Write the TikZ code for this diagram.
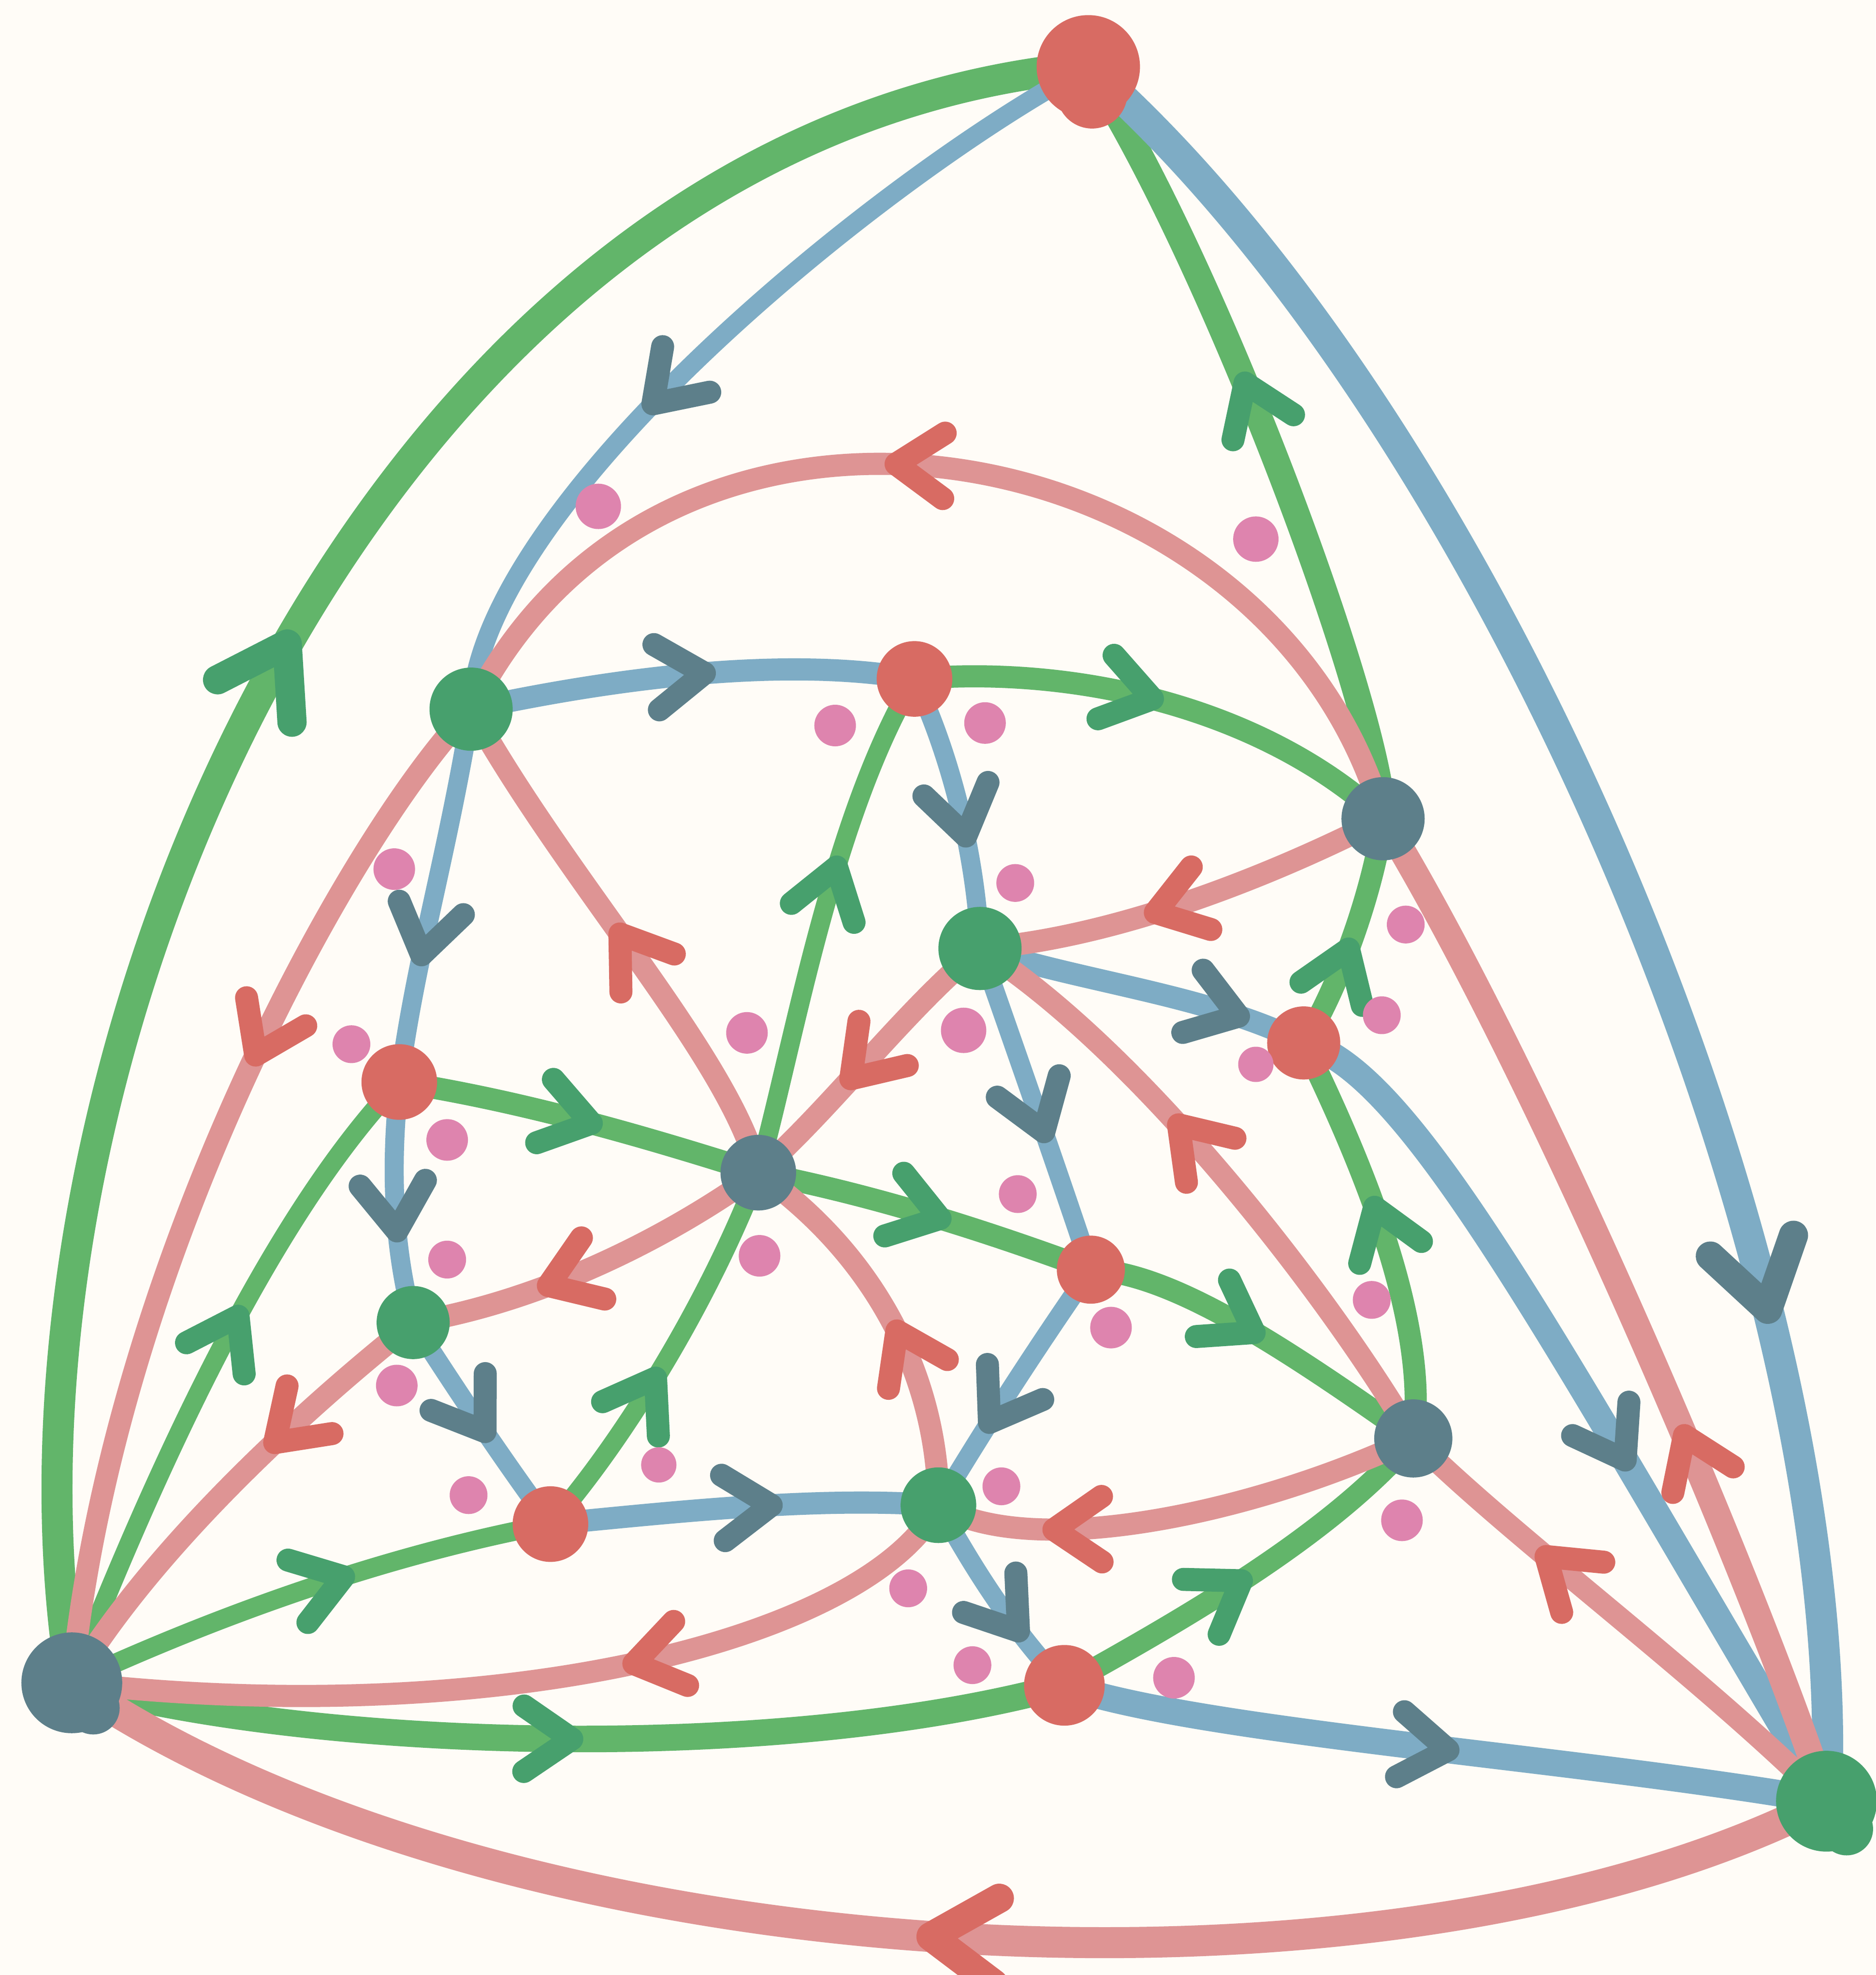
\documentclass[tikz,border=0pt]{standalone}
\usetikzlibrary{decorations.markings}
\definecolor{bgc}{HTML}{FFFCF7}
\definecolor{egreen}{HTML}{62B56A}
\definecolor{eblue}{HTML}{7EACC5}
\definecolor{epink}{HTML}{DE9494}
\definecolor{nred}{HTML}{D86B63}
\definecolor{ngreen}{HTML}{47A06D}
\definecolor{nslate}{HTML}{5D7F8A}
\definecolor{dotc}{HTML}{DE84AE}
\pgfdeclarelayer{bglayer}
\pgfdeclarelayer{edgelayer}
\pgfsetlayers{bglayer,edgelayer,main}
\tikzset{
  vert/.style={circle, inner sep=0pt, fill=#1},
  rv/.style={vert=nred}, gv/.style={vert=ngreen}, bv/.style={vert=nslate},
  dotn/.style={circle, inner sep=0pt, fill=dotc, minimum size=0.33cm},
  ge/.style={draw=egreen, line width=5pt},
  be/.style={draw=eblue, line width=5pt},
  pe/.style={draw=epink, line width=5pt},
  thin/.style={line width=4.3pt},
  thick/.style={line width=6pt},
  outer/.style={line width=7pt},
  chev/.style 2 args={postaction={decorate, decoration={markings, mark=at position #1 with {\draw[draw=#2, line width=5.2pt, line cap=round, line join=round] (-35,26) -- (3,0) -- (-35,-26);}}}},
  bchev/.style 2 args={postaction={decorate, decoration={markings, mark=at position #1 with {\draw[draw=#2, line width=6.6pt, line cap=round, line join=round] (-48,34) -- (4,0) -- (-48,-34);}}}},
}
\begin{document}
\begin{tikzpicture}[x=0.01cm, y=-0.01cm]
\useasboundingbox (0,0) rectangle (1489,1568);
\begin{pgfonlayer}{bglayer}
\fill[bgc] (0,0) rectangle (1489,1568);
\end{pgfonlayer}

% vertices
\node[rv, minimum size=0.82cm] (R1) at (864,53) {};
\fill[nred] (867,74) circle (0.28cm);
\node[rv, minimum size=0.60cm] (R2) at (726,539) {};
\node[rv, minimum size=0.60cm] (R3) at (317,859) {};
\node[rv, minimum size=0.58cm] (R4) at (1035,828) {};
\node[rv, minimum size=0.54cm] (R5) at (866,1008) {};
\node[rv, minimum size=0.60cm] (R6) at (437,1210) {};
\node[rv, minimum size=0.64cm] (R7) at (845,1338) {};
\node[gv, minimum size=0.66cm] (G1) at (374,563) {};
\node[gv, minimum size=0.66cm] (G2) at (778,753) {};
\node[gv, minimum size=0.58cm] (G3) at (328,1050) {};
\node[gv, minimum size=0.60cm] (G4) at (745,1195) {};
\node[gv, minimum size=0.80cm] (G5) at (1450,1430) {};
\fill[ngreen] (1466,1452) circle (0.21cm);
\node[bv, minimum size=0.66cm] (B1) at (1098,650) {};
\node[bv, minimum size=0.60cm] (B2) at (602,931) {};
\node[bv, minimum size=0.62cm] (B3) at (1122,1142) {};
\node[bv, minimum size=0.80cm] (B4) at (57,1336) {};
\fill[nslate] (74,1356) circle (0.21cm);

% face dots
\node[dotn, minimum size=0.36cm] (d1) at (475,402) {};
\node[dotn, minimum size=0.36cm] (d2) at (997,428) {};
\node[dotn] (d3) at (663,576) {};
\node[dotn] (d4) at (782,574) {};
\node[dotn] (d5) at (313,690) {};
\node[dotn, minimum size=0.30cm] (d6) at (806,701) {};
\node[dotn, minimum size=0.30cm] (d7) at (1116,734) {};
\node[dotn, minimum size=0.30cm] (d8) at (279,829) {};
\node[dotn] (d9) at (593,820) {};
\node[dotn, minimum size=0.36cm] (d10) at (765,818) {};
\node[dotn, minimum size=0.30cm] (d11) at (1097,806) {};
\node[dotn, minimum size=0.28cm] (d12) at (997,845) {};
\node[dotn] (d13) at (355,905) {};
\node[dotn, minimum size=0.30cm] (d14) at (808,948) {};
\node[dotn, minimum size=0.30cm] (d15) at (355,1000) {};
\node[dotn] (d16) at (603,997) {};
\node[dotn, minimum size=0.30cm] (d17) at (1089,1032) {};
\node[dotn] (d18) at (882,1054) {};
\node[dotn] (d19) at (315,1100) {};
\node[dotn, minimum size=0.28cm] (d20) at (523,1163) {};
\node[dotn, minimum size=0.30cm] (d21) at (372,1187) {};
\node[dotn, minimum size=0.30cm] (d22) at (795,1180) {};
\node[dotn] (d23) at (1113,1207) {};
\node[dotn, minimum size=0.30cm] (d24) at (721,1261) {};
\node[dotn, minimum size=0.30cm] (d25) at (772,1322) {};
\node[dotn] (d26) at (932,1332) {};

\begin{pgfonlayer}{edgelayer}
% green edges
\draw[ge, outer, bchev={0.51}{ngreen}] (B4.center) .. controls (-20,860) and (285,105) .. (R1.center);
\draw[ge, thick, chev={0.56}{ngreen}] (B1.center) .. controls (1095,560) and (960,200) .. (R1.center);
\draw[ge, chev={0.47}{ngreen}] (R2.center) .. controls (850,528) and (1000,560) .. (B1.center);
\draw[ge, chev={0.42}{ngreen}] (R4.center) .. controls (1060,790) and (1090,710) .. (B1.center);
\draw[ge, chev={0.56}{ngreen}] (B3.center) .. controls (1135,1050) and (1080,920) .. (R4.center);
\draw[ge, chev={0.47}{ngreen}] (R7.center) .. controls (950,1280) and (1060,1215) .. (B3.center);
\draw[ge, chev={0.47}{ngreen}] (R5.center) .. controls (930,1010) and (1020,1070) .. (B3.center);
\draw[ge, chev={0.53}{ngreen}] (B2.center) .. controls (700,950) and (790,980) .. (R5.center);
\draw[ge, chev={0.52}{ngreen}] (R3.center) .. controls (420,875) and (520,905) .. (B2.center);
\draw[ge, thin, chev={0.6}{ngreen}] (B2.center) .. controls (630,830) and (660,650) .. (R2.center);
\draw[ge, thin, chev={0.43}{ngreen}] (R6.center) .. controls (490,1150) and (560,1040) .. (B2.center);
\draw[ge, thin, chev={0.58}{ngreen}] (B4.center) .. controls (130,1150) and (220,960) .. (R3.center);
\draw[ge, thin, chev={0.57}{ngreen}] (B4.center) .. controls (200,1270) and (330,1230) .. (R6.center);
\draw[ge, thick, chev={0.5}{ngreen}] (B4.center) .. controls (250,1390) and (620,1400) .. (R7.center);
% blue edges
\draw[be, thin, chev={0.6}{nslate}] (R1.center) .. controls (700,140) and (380,400) .. (G1.center);
\draw[be, outer, bchev={0.74}{nslate}] (R1.center) .. controls (1180,330) and (1470,1000) .. (G5.center);
\draw[be, chev={0.52}{nslate}] (G1.center) .. controls (480,540) and (620,520) .. (R2.center);
\draw[be, thin, chev={0.58}{nslate}] (R2.center) .. controls (755,600) and (775,680) .. (G2.center);
\draw[be, thin, chev={0.65}{nslate}] (G1.center) .. controls (355,680) and (330,760) .. (R3.center);
\draw[be, thin, chev={0.6}{nslate}] (R3.center) .. controls (308,940) and (315,1000) .. (G3.center);
\draw[be, thin, chev={0.52}{nslate}] (G3.center) .. controls (360,1100) and (400,1160) .. (R6.center);
\draw[be, chev={0.56}{nslate}] (R6.center) .. controls (540,1200) and (650,1188) .. (G4.center);
\draw[be, thin, chev={0.56}{nslate}] (G2.center) .. controls (805,830) and (840,930) .. (R5.center);
\draw[be, thin, chev={0.64}{nslate}] (R5.center) .. controls (830,1060) and (790,1120) .. (G4.center);
\draw[be, thin, chev={0.66}{nslate}] (G4.center) .. controls (770,1240) and (800,1290) .. (R7.center);
\draw[be, thick, chev={0.5}{nslate}] (R7.center) .. controls (950,1375) and (1250,1395) .. (G5.center);
\draw[be, chev={0.78}{nslate}] (G2.center) .. controls (860,780) and (960,790) .. (R4.center);
\draw[be, thick, chev={0.57}{nslate}] (R4.center) .. controls (1120,850) and (1230,1060) .. (G5.center);
% pink edges
\draw[pe, chev={0.55}{nred}] (B1.center) .. controls (1010,340) and (530,250) .. (G1.center);
\draw[pe, chev={0.57}{nred}] (B1.center) .. controls (1000,700) and (880,745) .. (G2.center);
\draw[pe, chev={0.38}{nred}] (G1.center) .. controls (280,660) and (90,1000) .. (B4.center);
\draw[pe, chev={0.5}{nred}] (B2.center) .. controls (580,840) and (450,700) .. (G1.center);
\draw[pe, chev={0.57}{nred}] (G2.center) .. controls (720,800) and (660,880) .. (B2.center);
\draw[pe, chev={0.59}{nred}] (B3.center) .. controls (1050,1020) and (900,830) .. (G2.center);
\draw[pe, thick, chev={0.36}{nred}] (G5.center) .. controls (1390,1250) and (1220,850) .. (B1.center);
\draw[pe, chev={0.62}{nred}] (B2.center) .. controls (520,990) and (420,1035) .. (G3.center);
\draw[pe, chev={0.45}{nred}] (G4.center) .. controls (745,1100) and (700,1000) .. (B2.center);
\draw[pe, chev={0.36}{nred}] (G3.center) .. controls (240,1120) and (120,1230) .. (B4.center);
\draw[pe, chev={0.38}{nred}] (G4.center) .. controls (690,1300) and (400,1375) .. (B4.center);
\draw[pe, chev={0.75}{nred}] (B3.center) .. controls (1000,1200) and (820,1240) .. (G4.center);
\draw[pe, chev={0.67}{nred}] (G5.center) .. controls (1350,1330) and (1200,1220) .. (B3.center);
\draw[pe, outer, bchev={0.5}{nred}] (G5.center) .. controls (1100,1610) and (400,1570) .. (B4.center);
\end{pgfonlayer}
\end{tikzpicture}
\end{document}
